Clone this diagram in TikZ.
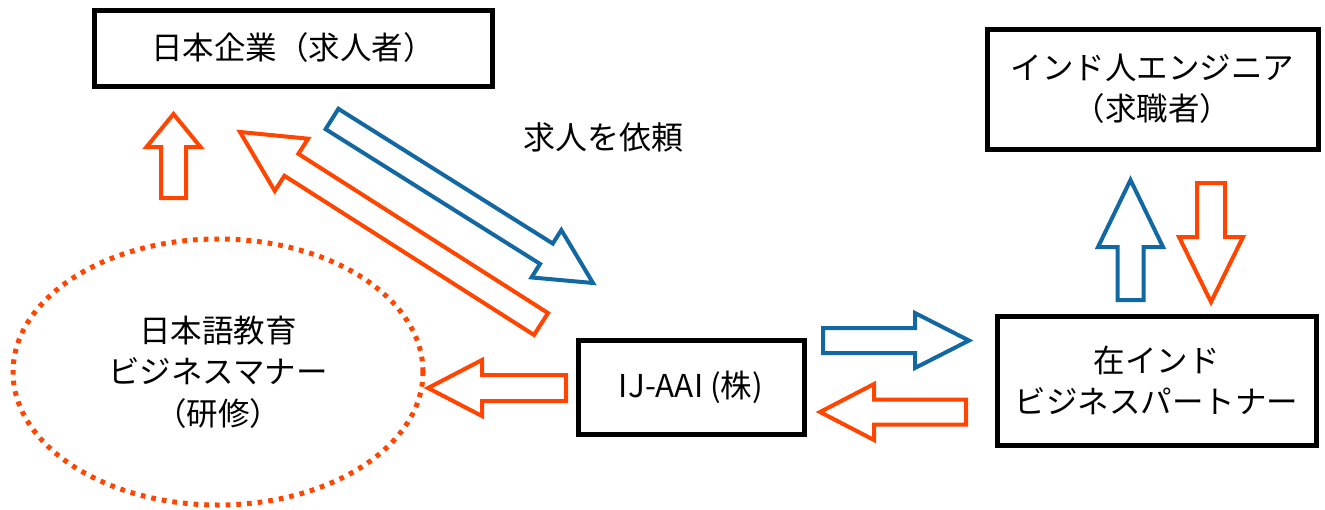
\documentclass[tikz,border=0pt]{standalone}
\usepackage{fontspec}
\setmainfont{Noto Sans CJK JP}
\usetikzlibrary{calc,shapes.geometric}
\definecolor{ored}{RGB}{255,69,0}
\definecolor{oblue}{RGB}{18,104,163}
% block arrow: #1 style, #2 prefix (coords #2t tail, #2h tip), #3 half shaft, #4 half head, #5 head length
\newcommand\blockarr[5]{%
  \path ($(#2h)!#5!(#2t)$) coordinate (#2b);
  \draw[#1] ($(#2t)!#3!90:(#2h)$) -- ($(#2b)!#3!90:(#2h)$) -- ($(#2b)!#4!90:(#2h)$)
    -- (#2h) -- ($(#2b)!#4!-90:(#2h)$) -- ($(#2b)!#3!-90:(#2h)$) -- ($(#2t)!#3!-90:(#2h)$) -- cycle;}
\begin{document}
\begin{tikzpicture}[x=1pt,y=-1pt,
  box/.style={draw=black,line width=5pt,inner sep=0pt,align=center,
    font=\fontsize{31.5pt}{41pt}\selectfont},
  redarr/.style={draw=ored,line width=4pt,fill=white,line join=miter},
  bluearr/.style={draw=oblue,line width=4pt,fill=white,line join=miter},
  lbl/.style={inner sep=0pt,font=\fontsize{32pt}{41pt}\selectfont}]
\useasboundingbox (0,0) rectangle (1325,509);

% nodes
\node[box,minimum width=398pt,minimum height=76pt] (company) at (293,48) {日本企業（求人者）};
\node[box,minimum width=331pt,minimum height=120pt] (engineer) at (1152.5,89) {インド人エンジニア\\（求職者）};
\node[box,minimum width=226pt,minimum height=94pt] (ijaai) at (691,387) {IJ-AAI (株)};
\node[box,minimum width=319pt,minimum height=129pt] (partner) at (1156.5,380.5) {在インド\\ビジネスパートナー};
\node[ellipse,draw=ored,line width=5pt,dash pattern=on 4.7pt off 6pt,
  minimum width=410pt,minimum height=266pt,inner sep=0pt,align=center,
  font=\fontsize{31.5pt}{41.5pt}\selectfont] (training) at (218,372) {日本語教育\\ビジネスマナー\\（研修）};
\node[lbl] (request) at (603,137) {求人を依頼};

% arrow end points
\coordinate (a1t) at (173.5,198);  \coordinate (a1h) at (173.5,114);
\coordinate (a2t) at (541,324);    \coordinate (a2h) at (240,132);
\coordinate (a3t) at (332,119);    \coordinate (a3h) at (593,283);
\coordinate (a4t) at (823,340.5);  \coordinate (a4h) at (969,340.5);
\coordinate (a5t) at (966,412);    \coordinate (a5h) at (820,412);
\coordinate (a6t) at (1130.5,300); \coordinate (a6h) at (1130.5,180);
\coordinate (a7t) at (1211,183);   \coordinate (a7h) at (1211,302);
\coordinate (a8t) at (566,388);    \coordinate (a8h) at (428,388);

% arrows
\blockarr{redarr}{a1}{12.5pt}{27pt}{33pt}
\blockarr{redarr}{a2}{13pt}{31pt}{61pt}
\blockarr{bluearr}{a3}{12pt}{28pt}{55pt}
\blockarr{bluearr}{a4}{12.5pt}{27.5pt}{54pt}
\blockarr{redarr}{a5}{12.5pt}{28pt}{54pt}
\blockarr{bluearr}{a6}{13pt}{32.5pt}{67pt}
\blockarr{redarr}{a7}{14pt}{32pt}{65pt}
\blockarr{redarr}{a8}{13pt}{28pt}{54pt}
\end{tikzpicture}
\end{document}
